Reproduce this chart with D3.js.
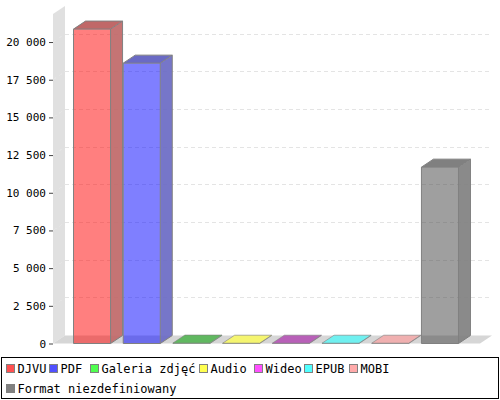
<!DOCTYPE html>
<html><head><meta charset="utf-8">
<script src="https://cdn.jsdelivr.net/npm/d3@7"></script>
<style>html,body{margin:0;padding:0;background:#fff}svg{display:block}text{font-family:"DejaVu Sans Mono",monospace;font-size:12px;fill:#000}</style>
</head><body><div id="c"></div>
<script>
const categories=["DJVU","PDF","Galeria zdjęć","Audio","Wideo","EPUB","MOBI","Format niezdefiniowany"];
const values=[20860,18600,30,20,20,20,20,11700];
const tickValues=[0,2500,5000,7500,10000,12500,15000,17500,20000];
const tickLabels=["0","2 500","5 000","7 500","10 000","12 500","15 000","17 500","20 000"];
const legendColors=["#ff5050","#5050ff","#50ff50","#ffff50","#ff50ff","#50ffff","#ffaaaa","#808080"];
const frontColors=["#ff0000","#0000ff","#00c000","#ffff00","#c000c0","#00ffff","#ffa0a0","#404040"];
const sideColors=["#c06868","#6a6ac4","#60b860","#f5f570","#b860b8","#70f0f0","#f0b0b0","#808080"];
const topColors=["#c06868","#6a6ac4","#60b860","#f5f570","#b860b8","#70f0f0","#f0b0b0","#808080"];
const legendRows=[[0,1,2,3,4,5,6],[7]];
const legendX=[6,49,90,199,254,304,349];

const dx=12,dy=8;
const svg=d3.select("#c").append("svg").attr("width",500).attr("height",400);
const x=d3.scaleBand().domain(categories).range([52.5,479.5]).paddingInner(.255).paddingOuter(.423);
const y=d3.scaleLinear().domain([0,21860]).range([343.5,14]);
const x0=53,x1=480,y0=y(0),yT=y.range()[1];
const poly=(pts,fill,op)=>svg.append("polygon").attr("points",pts.map(p=>p.join(",")).join(" ")).attr("fill",fill).attr("fill-opacity",op==null?1:op);
poly([[x0,y0],[x0+dx,y0-dy],[x0+dx,yT-dy],[x0,yT]],"#e0e0e0");
poly([[x0,y0],[x1,y0],[x1+dx,y0-dy],[x0+dx,y0-dy]],"#d6d6d6");
tickValues.slice(1).forEach(t=>{
  svg.append("path").attr("d",`M${x0},${y(t)+.0}L${x0+dx},${y(t)-dy}H${x1+dx}`).attr("fill","none").attr("stroke","#e4e4e4").attr("stroke-dasharray","4 3").attr("shape-rendering","crispEdges");
});
const axis=d3.axisLeft(y).tickValues(tickValues).tickFormat((d,i)=>tickLabels[i]).tickSize(4).tickPadding(3);
const g=svg.append("g").attr("transform",`translate(${x0},0)`).call(axis);
g.select(".domain").remove();
g.selectAll(".tick line").attr("stroke","#444");
g.selectAll("text").style("font-size","11px");
categories.forEach((c,i)=>{
  const l=x(c),w=x.bandwidth(),t=y(values[i]),r=l+w;
  const h=y0-t;
  poly([[r,t],[r+dx,t-dy],[r+dx,y0-dy],[r,y0]],sideColors[i],.92);
  poly([[l,t],[l+dx,t-dy],[r+dx,t-dy],[r,t]],topColors[i]);
  poly([[l,t],[r,t],[r,y0],[l,y0]],frontColors[i],.5);
  svg.append("path").attr("d",`M${l},${y0}V${t}H${r}V${y0}Z M${l},${t}L${l+dx},${t-dy}H${r+dx}L${r},${t} M${r+dx},${t-dy}V${y0-dy}L${r},${y0}`)
    .attr("fill","none").attr("stroke","#808080").attr("stroke-width",h>2?1:.6);
});
svg.append("rect").attr("x",1.5).attr("y",357.5).attr("width",497).attr("height",41).attr("fill","#fff").attr("stroke","#000");
legendRows.forEach((row,ri)=>row.forEach((k,j)=>{
  const lx=legendX[j],ly=364+ri*20;
  svg.append("rect").attr("x",lx+.5).attr("y",ly+.5).attr("width",8).attr("height",8).attr("fill",legendColors[k]).attr("stroke","#808080");
  svg.append("text").attr("x",lx+11.5).attr("y",ly+8.5).text(categories[k]);
}));
</script></body></html>
